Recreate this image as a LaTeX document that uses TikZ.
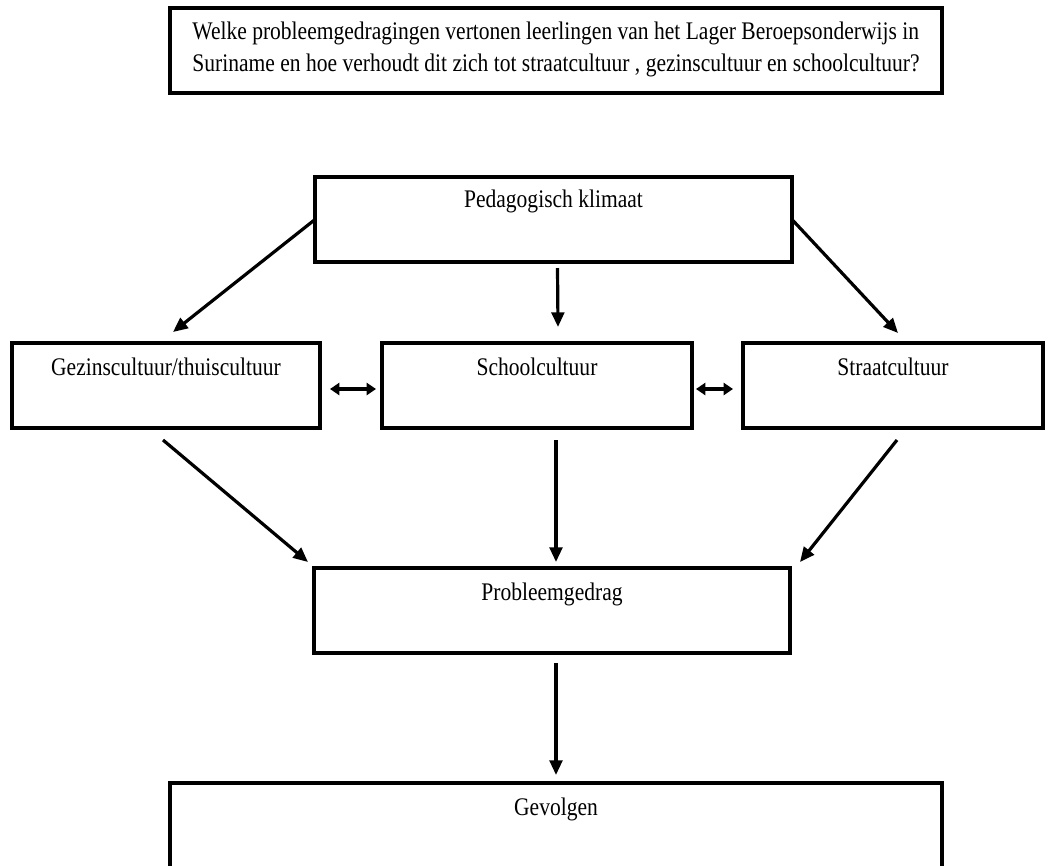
\documentclass[tikz,border=0pt]{standalone}
\usepackage{fontspec}
\setmainfont[FakeStretch=0.85]{Liberation Serif}
\usetikzlibrary{arrows.meta,calc}
\begin{document}
\begin{tikzpicture}[x=0.75pt,y=-0.75pt,
  box/.style={draw, line width=3.7pt, inner sep=0pt, outer sep=0pt},
  lbl/.style={anchor=base, inner sep=0pt, font=\fontsize{19pt}{22pt}\selectfont},
  arr/.style={line width=2.4pt, -{Triangle[length=11pt,width=9.5pt]}},
  darr/.style={line width=2.4pt, {Triangle[length=7pt,width=9pt]}-{Triangle[length=7pt,width=9pt]}}]
\useasboundingbox (0,0) rectangle (1049,865);
\clip (0,0) rectangle (1049,865);
% boxes
\node[box, minimum width=579pt, minimum height=63.75pt] (q) at (556,50.5) {};
\node[inner sep=0pt, align=left, font=\fontsize{19pt}{24pt}\selectfont] (qt) at ([yshift=1pt]q.center)
  {Welke probleemgedragingen vertonen leerlingen van het Lager Beroepsonderwijs in\\
   Suriname en hoe verhoudt dit zich tot straatcultuur , gezinscultuur en schoolcultuur?};
\node[box, minimum width=357.75pt, minimum height=63.75pt] (ped) at (553.5,219.5) {};
\node[box, minimum width=231pt, minimum height=63.75pt] (gez) at (166,385.5) {};
\node[box, minimum width=232.5pt, minimum height=63.75pt] (sch) at (537,385.5) {};
\node[box, minimum width=225pt, minimum height=63.75pt] (str) at (893,385.5) {};
\node[box, minimum width=357pt, minimum height=63.75pt] (prob) at (552,610.5) {};
\node[box, minimum width=579pt, minimum height=90pt] (gev) at (556,843) {};
% labels
\node[lbl] (pedt) at ([yshift=-23pt]ped.north) {Pedagogisch klimaat};
\node[lbl] (gezt) at ([yshift=-24pt]gez.north) {Gezinscultuur/thuiscultuur};
\node[lbl] (scht) at ([yshift=-24pt]sch.north) {Schoolcultuur};
\node[lbl] (strt) at ([yshift=-24pt]str.north) {Straatcultuur};
\node[lbl] (probt) at ([yshift=-24pt]prob.north) {Probleemgedrag};
\node[lbl] (gevt) at ([yshift=-24pt]gev.north) {Gevolgen};
% arrows
\draw[arr] (ped.west) -- ($(gez.north)+(7,-11)$);
\draw[arr] ($(ped.south)+(4,6)$) -- ($(sch.north)+(21,-16)$);
\draw[arr] (ped.east) -- ($(str.north)+(5,-10)$);
\draw[arr] ($(gez.south)+(-3,12)$) -- ($(prob.north west)+(-6,-6)$);
\draw[arr] ($(sch.south)+(19,12)$) -- ($(prob.north)+(4,-6)$);
\draw[arr] ($(str.south)+(4,12)$) -- ($(prob.north east)+(10,-6)$);
\draw[arr] ($(prob.south)+(4,10)$) -- ($(gev.north)+(0,-8)$);
\draw[darr] ($(gez.east)+(10,3.5)$) -- ($(sch.west)+(-6,3.5)$);
\draw[darr] ($(sch.east)+(4,3.5)$) -- ($(str.west)+(-10,3.5)$);
\end{tikzpicture}
\end{document}
